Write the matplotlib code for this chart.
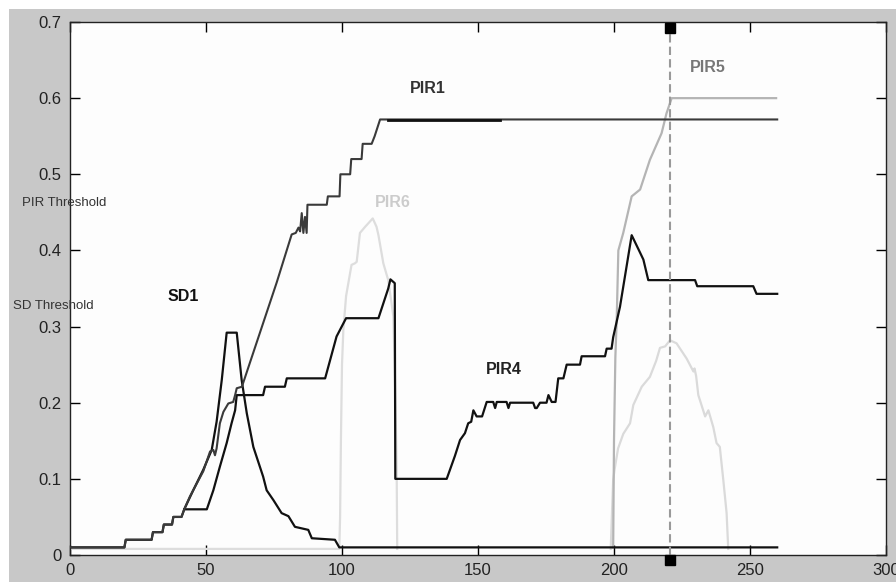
import numpy as np
import matplotlib
matplotlib.use("Agg")
import matplotlib.pyplot as plt
from matplotlib.patches import Rectangle

plt.rcParams["font.family"] = ["Liberation Sans", "DejaVu Sans"]

# --- data ---
x_ticks = [0, 50, 100, 150, 200, 250, 300]
x_tick_labels = ["0", "50", "100", "150", "200", "250", "300"]
y_ticks = [0, 0.1, 0.2, 0.3, 0.4, 0.5, 0.6, 0.7]
y_tick_labels = ["0", "0.1", "0.2", "0.3", "0.4", "0.5", "0.6", "0.7"]

pir1_x = [0, 20, 20.5, 30, 30.5, 34, 34.5, 37.5, 38, 41, 42, 44.1, 49, 51.5, 52.7, 53.3, 53.9,
          55.1, 56.4, 58.2, 60, 60.7, 61.3, 63.2, 76, 81.5, 83, 84, 84.6, 85.2, 85.8, 86.4, 87,
          87.3, 94.4, 94.8, 99.1, 99.4, 103, 103.4, 107.2, 107.6, 110.9, 112, 114, 260]
pir1_y = [0.01, 0.01, 0.02, 0.02, 0.03, 0.03, 0.04, 0.04, 0.05, 0.05, 0.06, 0.077, 0.110, 0.136,
          0.138, 0.131, 0.140, 0.173, 0.188, 0.199, 0.201, 0.210, 0.219, 0.221, 0.358, 0.421,
          0.423, 0.43, 0.425, 0.449, 0.423, 0.444, 0.423, 0.46, 0.46, 0.471, 0.471, 0.50, 0.50,
          0.52, 0.52, 0.54, 0.54, 0.55, 0.572, 0.572]

# darker overlapping stretch on the PIR1 plateau
pir1_dup_x = [117, 158]
pir1_dup_y = [0.571, 0.571]

sd1_x = [0, 20, 20.5, 30, 30.5, 34, 34.5, 37.5, 38, 41, 42, 45.3, 49, 52.1, 53.9, 55.8, 57.6,
         61.3, 63.1, 65, 67.4, 71, 72.3, 74.8, 77.8, 80.3, 82.7, 87.6, 88.9, 97.4, 99, 260]
sd1_y = [0.01, 0.01, 0.02, 0.02, 0.03, 0.03, 0.04, 0.04, 0.05, 0.05, 0.06, 0.085, 0.112, 0.138,
         0.175, 0.23, 0.292, 0.292, 0.23, 0.186, 0.142, 0.103, 0.085, 0.072, 0.055, 0.051,
         0.037, 0.033, 0.022, 0.02, 0.01, 0.01]

pir4_x = [42, 50.3, 52.7, 55.1, 57.6, 59.4, 60.7, 61.3, 71, 71.7, 79, 79.7, 93.8, 98, 101.5,
          113.4, 117, 117.8, 119.4, 119.6, 138.5, 139.7, 141.5, 143.4, 145.2, 146.4, 147.5,
          148.3, 149.5, 151.5, 153.2, 155.6, 156.3, 156.9, 158.1, 160.5, 161.2, 161.8, 163,
          170.3, 171.0, 171.6, 172.8, 175.2, 175.9, 177.1, 178.5, 179.5, 181.4, 182.6, 187.5,
          188.1, 196.7, 197.3, 199.1, 199.7, 202.2, 206.5, 209.6, 210.8, 212.6, 229.8, 230.6,
          251.2, 252.4, 260]
pir4_y = [0.06, 0.06, 0.085, 0.116, 0.147, 0.173, 0.19, 0.21, 0.21, 0.221, 0.221, 0.232, 0.232,
          0.287, 0.311, 0.311, 0.35, 0.362, 0.357, 0.10, 0.10, 0.112, 0.13, 0.151, 0.16, 0.173,
          0.175, 0.19, 0.182, 0.182, 0.201, 0.201, 0.193, 0.201, 0.201, 0.201, 0.193, 0.20,
          0.20, 0.20, 0.193, 0.193, 0.20, 0.20, 0.21, 0.201, 0.201, 0.232, 0.232, 0.25, 0.25,
          0.261, 0.261, 0.271, 0.271, 0.286, 0.326, 0.42, 0.397, 0.388, 0.361, 0.361, 0.353,
          0.353, 0.343, 0.343]

pir6_x = [0, 99, 99.3, 99.6, 100, 100.5, 101.5, 103.5, 104.7, 105.4, 106.6, 108.5, 111.3,
          112.7, 113.4, 115.2, 117, 118.9, 119.5, 120.1, 120.3]
pir6_y = [0.008, 0.008, 0.05, 0.15, 0.25, 0.296, 0.34, 0.381, 0.383, 0.385, 0.423, 0.431,
          0.442, 0.431, 0.42, 0.383, 0.361, 0.313, 0.226, 0.112, 0.008]

bump_x = [198.8, 199.3, 199.7, 200.2, 201.5, 203.4, 205.9, 207.1, 210.2, 213.2, 215.5, 216.9,
          218.8, 220.6, 223, 226.7, 229.2, 229.6, 230.2, 231, 233.5, 234.7, 236.5, 237.7,
          238.9, 240.2, 241.4, 242]
bump_y = [0.008, 0.06, 0.099, 0.112, 0.14, 0.159, 0.173, 0.197, 0.221, 0.234, 0.255, 0.272,
          0.274, 0.282, 0.278, 0.258, 0.241, 0.245, 0.235, 0.21, 0.182, 0.19, 0.168, 0.147,
          0.142, 0.098, 0.055, 0.008]

pir5_x = [199.7, 200.0, 200.5, 201, 201.6, 203.4, 206.5, 209.6, 213.2, 217.5, 219.3, 221.2, 259.6]
pir5_y = [0.01, 0.15, 0.26, 0.31, 0.40, 0.423, 0.471, 0.48, 0.519, 0.554, 0.58, 0.60, 0.60]

cursor_x = 220.6
cursor_top = 0.692
cursor_bottom = -0.006

labels = ["PIR1", "PIR6", "SD1", "PIR4", "PIR5"]
label_x = [125, 112, 36, 153, 228]
label_y = [0.613, 0.463, 0.34, 0.243, 0.64]
label_colors = ["#333333", "#cccccc", "#111111", "#222222", "#777777"]

# --- figure ---
fig = plt.figure(figsize=(8.96, 5.82), dpi=100, facecolor="white")
bg = Rectangle((9 / 896, 0), 1 - 9 / 896, 1 - 9 / 582, transform=fig.transFigure,
               facecolor="#c8c8c8", edgecolor="none", zorder=-10)
fig.add_artist(bg)

ax = fig.add_axes([70 / 896, 1 - 555 / 582, (886 - 70) / 896, (555 - 22) / 582])
ax.set_facecolor("#fdfdfd")

ax.plot(pir6_x, pir6_y, color="#dddddd", lw=1.6, zorder=2)
ax.plot(bump_x, bump_y, color="#dadada", lw=1.6, zorder=2)
ax.plot(pir5_x, pir5_y, color="#b4b4b4", lw=1.6, zorder=3)
ax.plot(sd1_x, sd1_y, color="#111111", lw=1.6, zorder=4)
ax.plot(pir4_x, pir4_y, color="#111111", lw=1.6, zorder=4)
ax.plot(pir1_x, pir1_y, color="#3a3a3a", lw=1.5, zorder=5)
ax.plot(pir1_dup_x, pir1_dup_y, color="#111111", lw=2.0, zorder=5)

# cursor line with end markers
ax.plot([cursor_x, cursor_x], [0, cursor_top], color="#999999", lw=1.5,
        ls=(0, (4, 2)), zorder=6)
ax.plot([cursor_x, cursor_x], [cursor_top, cursor_bottom], ls="none", marker="s",
        color="black", markersize=6.5, clip_on=False, zorder=7)

for t, lx, ly, c in zip(labels, label_x, label_y, label_colors):
    ax.text(lx, ly, t, color=c, fontsize=11.5, fontweight="bold", va="center", ha="left")

ax.text(-17.6, 0.4625, "PIR Threshold", color="#333333", fontsize=9.5,
        va="center", ha="left", clip_on=False)
ax.text(-21, 0.327, "SD Threshold", color="#333333", fontsize=9.5,
        va="center", ha="left", clip_on=False)

ax.set_xlim(0, 300)
ax.set_ylim(0, 0.7)
ax.set_xticks(x_ticks)
ax.set_xticklabels(x_tick_labels)
ax.set_yticks(y_ticks)
ax.set_yticklabels(y_tick_labels)
ax.tick_params(direction="in", top=True, right=True, length=7, width=1,
               labelsize=12, labelcolor="#222222", pad=6)
for s in ax.spines.values():
    s.set_color("#222222")
    s.set_linewidth(1.0)

fig.savefig("out.png", dpi=100, facecolor=fig.get_facecolor())
